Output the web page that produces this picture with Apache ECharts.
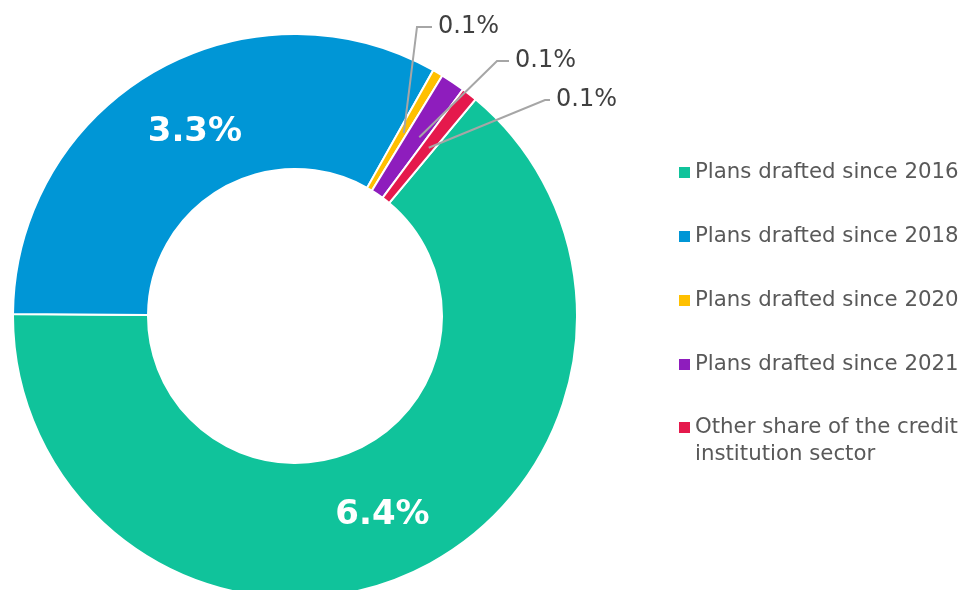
<!DOCTYPE html>
<html>
<head>
<meta charset="utf-8">
<script src="https://cdn.jsdelivr.net/npm/echarts@6/dist/echarts.min.js"></script>
<style>
  html, body { margin: 0; padding: 0; background: #ffffff; }
  #chart { width: 965px; height: 590px; }
</style>
</head>
<body>
<div id="chart"></div>
<script>
// categories and values (share of credit institution sector, %)
const categories = [
  'Plans drafted since 2016',
  'Plans drafted since 2018',
  'Plans drafted since 2020',
  'Plans drafted since 2021',
  'Other share of the credit\ninstitution sector'
];
const values = [6.4, 3.3, 0.06, 0.14, 0.09];
const colors = ['#10C39B', '#0096D6', '#FFC000', '#8E1DBD', '#E5194C'];

// where the small-slice labels sit (label left x, middle y, elbow x)
const smallLabelPos = {
  2: [438, 27, 417],
  3: [515, 61, 497],
  4: [556, 100, 545]
};
// small nudges for the two big inside labels
const bigLabelOffset = [[-4, 2], [9, 4]];

const chartDom = document.getElementById('chart');
const myChart = echarts.init(chartDom, null, { renderer: 'canvas' });

const center = [295, 316];
const startAngle = 50.2;
const fmt = (p) => p.value.toFixed(1) + '%';

// shared legend look
const legendBase = {
  orient: 'vertical',
  left: 679,
  padding: 0,
  itemWidth: 11,
  itemHeight: 11,
  itemGap: 37,
  icon: 'rect',
  itemStyle: { borderWidth: 0 },
  textStyle: {
    fontFamily: 'DejaVu Sans',
    fontSize: 21.3,
    lineHeight: 27,
    color: '#595959'
  }
};

const option = {
  backgroundColor: '#ffffff',
  animation: false,
  color: colors,
  legend: [
    Object.assign({}, legendBase, {
      top: 159,
      data: categories.slice(0, 4)
    }),
    // two-line entry: a blank line on top keeps the icon level with the first line
    Object.assign({}, legendBase, {
      top: 387,
      data: categories.slice(4),
      formatter: (name) => '\n' + name
    })
  ],
  series: [
    {
      name: 'share',
      type: 'pie',
      center: center,
      radius: [147, 282],
      startAngle: startAngle,
      clockwise: true,
      avoidLabelOverlap: false,
      itemStyle: { borderColor: '#ffffff', borderWidth: 2 },
      emphasis: { disabled: true },
      labelLine: { show: false },
      data: categories.map((name, i) => ({
        name: name,
        value: values[i],
        label: {
          show: i < 2,
          position: 'inside',
          offset: bigLabelOffset[i] || [0, 0],
          formatter: fmt,
          color: '#ffffff',
          fontFamily: 'DejaVu Sans',
          fontWeight: 'bold',
          fontSize: 34
        }
      }))
    },
    {
      // invisible copy used only to hang the small-slice leader lines mid-ring
      name: 'labels',
      type: 'pie',
      center: center,
      radius: [0, 212],
      startAngle: startAngle,
      clockwise: true,
      silent: true,
      avoidLabelOverlap: false,
      itemStyle: { color: 'rgba(0,0,0,0)', borderWidth: 0 },
      emphasis: { disabled: true },
      z: 5,
      labelLine: {
        show: true,
        lineStyle: { color: '#A6A6A6', width: 2 }
      },
      labelLayout: function (params) {
        const pos = smallLabelPos[params.dataIndex];
        if (!pos) return {};
        const r = params.rect;
        return {
          x: pos[0],
          y: pos[1],
          align: 'left',
          verticalAlign: 'middle',
          labelLinePoints: [
            [r.x + r.width - 2, r.y + 2],
            [pos[2], pos[1]],
            [pos[0] - 6, pos[1]]
          ]
        };
      },
      data: categories.map((name, i) => ({
        name: name,
        value: values[i],
        label: {
          show: i >= 2,
          position: 'outside',
          formatter: fmt,
          color: '#404040',
          fontFamily: 'DejaVu Sans',
          fontSize: 24
        },
        labelLine: { show: i >= 2 }
      }))
    }
  ]
};

myChart.setOption(option);

window.addEventListener('resize', () => {
  myChart.resize();
});
</script>
</body>
</html>
